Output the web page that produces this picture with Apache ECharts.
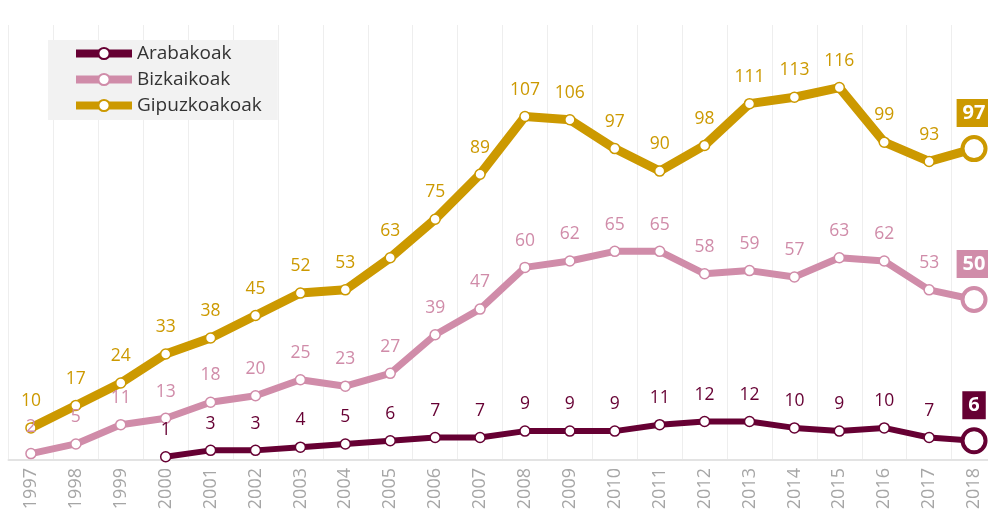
<!DOCTYPE html>
<html>
<head>
<meta charset="utf-8">
<script src="https://cdn.jsdelivr.net/npm/echarts@6/dist/echarts.min.js"></script>
<style>
  html, body { margin:0; padding:0; background:#fff; }
  #chart { width:988px; height:521px; }
</style>
</head>
<body>
<div id="chart"></div>
<script>
(function(){

    var years = ['1997','1998','1999','2000','2001','2002','2003','2004','2005','2006','2007',
                 '2008','2009','2010','2011','2012','2013','2014','2015','2016','2017','2018'];
    var arabakoak = ['-','-','-',1,3,3,4,5,6,7,7,9,9,9,11,12,12,10,9,10,7,6];
    var bizkaikoak = [2,5,11,13,18,20,25,23,27,39,47,60,62,65,65,58,59,57,63,62,53,50];
    var gipuzkoakoak = [10,17,24,33,38,45,52,53,63,75,89,107,106,97,90,98,111,113,116,99,93,97];

    var fontName = '"Open Sans", "Noto Sans", sans-serif';

    // last point gets a big hollow marker and a boxed label
    var withLast = function(data, color){
        var out = data.slice(0, data.length - 1);
        out.push({
            value: data[data.length - 1],
            symbolSize: 23,
            itemStyle: { color:'#fff', borderColor: color, borderWidth: 4 },
            label: {
                distance: 8,
                color: '#fff',
                fontWeight: 'bold',
                fontSize: 20,
                lineHeight: 21,
                backgroundColor: color,
                padding: [4, 6, 3, 6]
            }
        });
        return out;
    };

    var lineSeries = function(name, data, color, width){
        return {
            name: name,
            type: 'line',
            data: withLast(data, color),
            symbol: 'circle',
            symbolSize: 10,
            connectNulls: false,
            lineStyle: { color: color, width: width },
            itemStyle: { color: '#fff', borderColor: color, borderWidth: 1.5 },
            label: {
                show: true,
                position: 'top',
                distance: 12,
                color: color,
                fontSize: 17.5,
                fontFamily: fontName
            },
            emphasis: { disabled: true },
            z: 3
        };
    };

    var chart = echarts.init(document.getElementById('chart'));
    var option = {
        animation: false,
        backgroundColor: '#fff',
        legend: {
            orient: 'vertical',
            left: 48,
            top: 40,
            padding: [4, 16, 5, 24],
            itemGap: 7,
            itemWidth: 56,
            itemHeight: 14,
            backgroundColor: '#f2f2f2',
            lineStyle: { width: 8 },
            itemStyle: { color: '#fff', borderWidth: 2 },
            textStyle: { color: '#333', fontSize: 19, lineHeight: 19, fontFamily: fontName },
            data: ['Arabakoak', 'Bizkaikoak', 'Gipuzkoakoak']
        },
        grid: {
            left: 8.5,
            width: 988,
            top: 25,
            height: 435,
            outerBoundsMode: 'none'
        },
        xAxis: {
            type: 'category',
            data: years,
            boundaryGap: true,
            axisLine: { lineStyle: { color: '#e3e3e3', width: 2 } },
            axisTick: { show: false },
            axisLabel: {
                rotate: 90,
                color: '#a6a6a6',
                fontSize: 18,
                fontFamily: fontName,
                margin: 8
            },
            splitLine: { show: true, lineStyle: { color: '#eeeeee', width: 1 } }
        },
        yAxis: {
            type: 'value',
            min: 0,
            max: 135.5,
            show: false,
            splitLine: { show: false }
        },
        series: [
            lineSeries('Arabakoak', arabakoak, '#660033', 6),
            lineSeries('Bizkaikoak', bizkaikoak, '#d08ca9', 7),
            lineSeries('Gipuzkoakoak', gipuzkoakoak, '#cc9900', 9)
        ]
    };
    chart.setOption(option);

})();
</script>
</body>
</html>
